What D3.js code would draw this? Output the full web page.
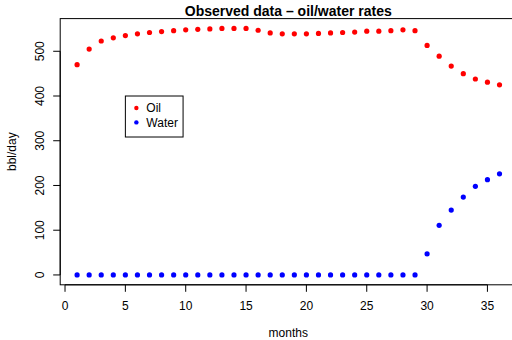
<!DOCTYPE html>
<html>
<head>
<style>
  body { margin: 0; background: #fff; }
  text { font-family: "Liberation Sans", Arial, sans-serif; fill: #000; }
</style>
</head>
<body>
<svg id="chart" width="512" height="340"></svg>
<script src="https://cdn.jsdelivr.net/npm/d3@7"></script>
<script>
// observed monthly rates
const months = d3.range(1, 37);
const oil = [470, 505, 523, 530, 535, 539, 542, 544, 546, 548, 549, 550,
             551, 551, 551, 547, 541, 539, 539, 539, 540, 541, 542, 543,
             545, 545, 546, 548, 546, 513, 489, 467, 450, 438, 431, 425];
const water = [0, 0, 0, 0, 0, 0, 0, 0, 0, 0, 0, 0,
               0, 0, 0, 0, 0, 0, 0, 0, 0, 0, 0, 0,
               0, 0, 0, 0, 0, 47, 111, 145, 174, 198, 213, 226];
const xTicks = [0, 5, 10, 15, 20, 25, 30, 35];
const yTicks = [0, 100, 200, 300, 400, 500];
const seriesNames = ["Oil", "Water"];
const seriesColors = ["red", "blue"];

const svg = d3.select("#chart");
const plot = { left: 60.2, right: 516.4, top: 18.6, bottom: 284.8 };

// R style 4% padding on the data range
function pad(ext) {
  const d = (ext[1] - ext[0]) * 0.04;
  return [ext[0] - d, ext[1] + d];
}
const x = d3.scaleLinear()
  .domain(pad(d3.extent(months)))
  .range([plot.left, plot.right]);
const y = d3.scaleLinear()
  .domain(pad([0, d3.max(oil.concat(water))]))
  .range([plot.bottom, plot.top]);

// box
svg.append("rect")
  .attr("x", plot.left).attr("y", plot.top)
  .attr("width", plot.right - plot.left).attr("height", plot.bottom - plot.top)
  .attr("fill", "none").attr("stroke", "#000").attr("stroke-width", 1);

// x axis
const xa = svg.append("g");
xa.append("line")
  .attr("x1", x(0)).attr("x2", x(35))
  .attr("y1", plot.bottom).attr("y2", plot.bottom)
  .attr("stroke", "#000");
xa.selectAll(".xt").data(xTicks).enter().append("line")
  .attr("x1", d => x(d)).attr("x2", d => x(d))
  .attr("y1", plot.bottom).attr("y2", plot.bottom + 7)
  .attr("stroke", "#000");
xa.selectAll(".xl").data(xTicks).enter().append("text")
  .attr("x", d => x(d)).attr("y", 310)
  .attr("text-anchor", "middle").attr("font-size", 12)
  .text(d => d);

// y axis
const ya = svg.append("g");
ya.append("line")
  .attr("x1", plot.left).attr("x2", plot.left)
  .attr("y1", y(0)).attr("y2", y(500))
  .attr("stroke", "#000");
ya.selectAll(".yt").data(yTicks).enter().append("line")
  .attr("x1", plot.left - 7).attr("x2", plot.left)
  .attr("y1", d => y(d)).attr("y2", d => y(d))
  .attr("stroke", "#000");
ya.selectAll(".yl").data(yTicks).enter().append("text")
  .attr("transform", d => `translate(44,${y(d)}) rotate(-90)`)
  .attr("text-anchor", "middle").attr("font-size", 12)
  .text(d => d);

// titles
svg.append("text")
  .attr("x", (plot.left + plot.right) / 2).attr("y", 16)
  .attr("text-anchor", "middle").attr("font-size", 14).attr("font-weight", "bold")
  .text("Observed data \u2013 oil/water rates");
svg.append("text")
  .attr("x", (plot.left + plot.right) / 2).attr("y", 337)
  .attr("text-anchor", "middle").attr("font-size", 12)
  .text("months");
svg.append("text")
  .attr("transform", `translate(16,${(plot.top + plot.bottom) / 2}) rotate(-90)`)
  .attr("text-anchor", "middle").attr("font-size", 12)
  .text("bbl/day");

// points
[oil, water].forEach((vals, i) => {
  svg.append("g").selectAll("circle").data(vals).enter().append("circle")
    .attr("cx", (d, j) => x(months[j]))
    .attr("cy", d => y(d))
    .attr("r", 2.6)
    .attr("fill", seriesColors[i]);
});

// legend, anchored at (5, 400) in data units
const lx = x(5), ly = y(400);
const lg = svg.append("g");
lg.append("rect")
  .attr("x", lx).attr("y", ly).attr("width", 57.7).attr("height", 41)
  .attr("fill", "#fff").attr("stroke", "#000");
seriesNames.forEach((name, i) => {
  lg.append("circle")
    .attr("cx", lx + 11).attr("cy", ly + 12 + i * 14.4)
    .attr("r", 2.2).attr("fill", seriesColors[i]);
  lg.append("text")
    .attr("x", lx + 21).attr("y", ly + 16.3 + i * 14.4)
    .attr("font-size", 12)
    .text(name);
});
</script>
</body>
</html>
